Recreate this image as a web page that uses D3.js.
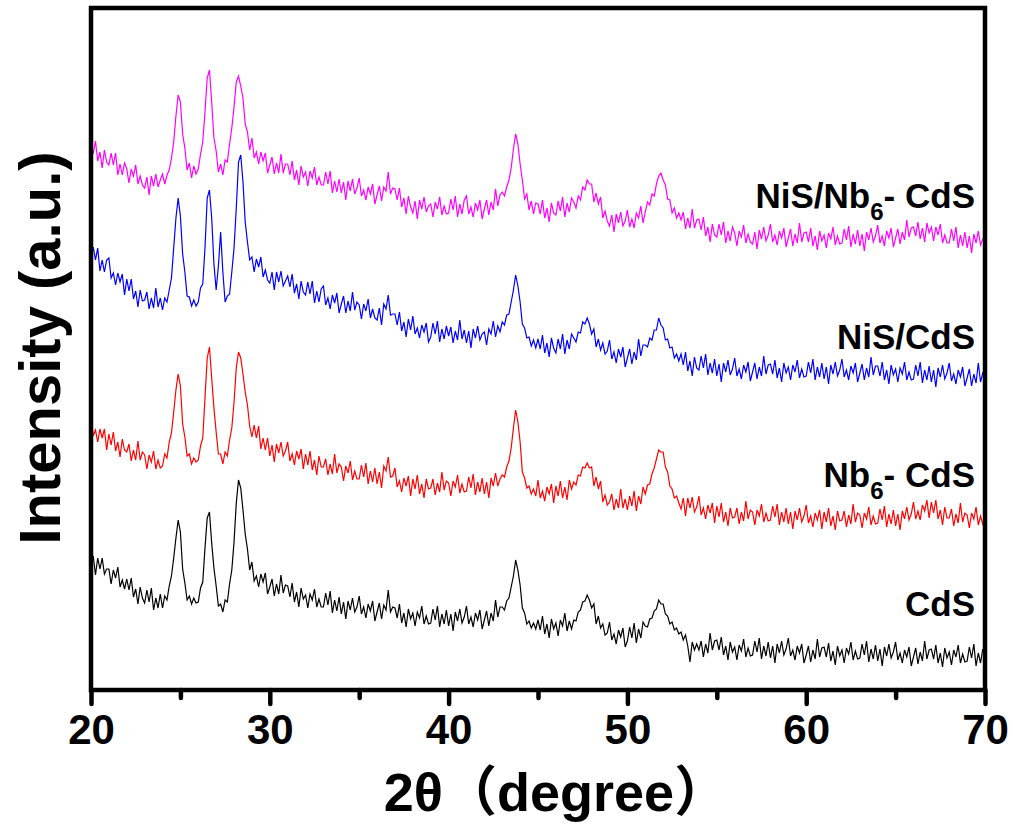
<!DOCTYPE html>
<html><head><meta charset="utf-8">
<script src="https://cdn.jsdelivr.net/npm/d3@7"></script>
<style>
html,body{margin:0;padding:0;background:#fff;}
text{font-family:"Liberation Sans",Arial,sans-serif;font-weight:bold;fill:#000;}
</style></head>
<body><svg id="chart" width="1014" height="828"></svg>
<script>
// 2θ sampling grid (degrees)
const thetaStart = 20, thetaStep = 0.125, thetaEnd = 70;
const xTicksMajor = [20, 30, 40, 50, 60, 70];
const xTicksMinor = [25, 35, 45, 55, 65];
const seriesColors = ["#ff00ff", "#0000ff", "#ff0000", "#000000"];

// intensities (a.u., stacked offsets included), 8 points per degree
const nisNb6CdS = [
/*20*/548,536,549,529,538,522,540,528, /*21*/525,537,525,537,515,526,515,527,
/*22*/521,507,521,514,525,506,514,505, /*23*/502,513,495,514,504,516,503,510,
/*24*/516,506,515,520,532,548,574,595, /*25*/588,556,542,520,527,512,524,516,
/*26*/521,536,548,578,612,620,588,552, /*27*/539,518,526,515,530,528,546,562,
/*28*/583,608,614,604,592,566,558,540, /*29*/552,532,538,526,538,529,537,517,
/*30*/525,533,516,527,517,536,517,526, /*31*/526,515,529,510,520,505,524,513,
/*32*/518,504,519,512,523,505,513,505, /*33*/505,518,506,519,497,509,498,511,
/*34*/497,508,490,509,499,511,496,502, /*35*/512,494,500,490,503,496,506,486,
/*36*/495,504,489,503,499,518,496,502, /*37*/501,490,502,483,492,476,494,483,
/*38*/477,489,471,490,481,493,478,484, /*39*/486,473,488,481,493,475,484,476,
/*40*/477,491,480,494,473,486,476,490, /*41*/494,476,483,473,487,480,490,471,
/*42*/481,490,475,488,480,501,484,495, /*43*/498,494,503,510,522,541,556,546,
/*44*/526,510,491,496,480,489,476,487, /*45*/486,476,490,472,482,468,487,477,
/*46*/475,489,479,493,473,487,478,492, /*47*/488,482,494,490,503,500,510,506,
/*48*/506,488,497,486,493,472,479,469, /*49*/464,475,458,476,467,478,464,469,
/*50*/480,463,471,462,477,472,484,467, /*51*/478,488,485,496,494,506,514,517,
/*52*/510,505,491,490,477,482,472,477, /*53*/470,478,461,472,462,481,462,470,
/*54*/471,460,473,454,463,448,466,455, /*55*/453,466,455,468,447,459,449,463,
/*56*/457,444,459,453,465,447,456,448, /*57*/446,458,441,460,451,463,449,455,
/*58*/466,448,455,445,459,452,462,443, /*59*/452,461,444,456,447,467,448,457,
/*60*/458,448,462,444,454,440,459,449, /*61*/455,442,457,451,463,445,454,446,
/*62*/447,461,450,464,443,456,446,460, /*63*/444,456,439,458,450,462,448,454,
/*64*/465,447,454,444,459,452,462,443, /*65*/452,461,446,458,450,470,453,462,
/*66*/463,454,468,451,462,448,467,457, /*67*/463,449,463,455,466,447,455,447,
/*68*/447,461,449,463,442,455,444,458, /*69*/442,454,437,456,447,459,445,451,
/*70*/450];
const nisCdS = [
/*20*/431,443,430,442,419,430,418,430, /*21*/432,412,417,405,417,408,416,395,
/*22*/411,399,411,391,399,383,400,389, /*23*/390,398,381,392,382,402,383,392,
/*24*/380,392,388,400,412,442,472,492, /*25*/474,436,418,394,393,384,390,384,
/*26*/388,402,406,442,492,500,472,426, /*27*/400,424,458,418,388,394,396,418,
/*28*/442,482,528,535,508,468,448,430, /*29*/433,418,431,423,433,413,420,410,
/*30*/407,418,400,418,408,419,404,409, /*31*/414,403,416,397,406,391,409,398,
/*32*/395,408,396,409,387,399,388,401, /*33*/404,385,392,381,395,387,397,377,
/*34*/386,394,377,389,379,398,380,388, /*35*/385,371,386,379,391,372,381,372,
/*36*/370,382,365,386,381,395,375,376, /*37*/376,365,378,359,368,353,371,360,
/*38*/374,356,362,352,365,358,367,348, /*39*/353,367,356,369,348,361,351,364,
/*40*/354,363,347,359,350,370,351,360, /*41*/347,359,342,361,352,364,350,356,
/*42*/358,345,361,356,369,353,364,358, /*43*/368,365,375,376,388,400,415,404,
/*44*/388,366,362,352,353,344,350,342, /*45*/351,341,355,337,347,333,352,342,
/*46*/337,351,341,356,336,350,341,356, /*47*/352,348,358,357,368,366,372,366,
/*48*/356,361,343,351,340,347,336,339, /*49*/350,331,338,327,341,333,343,323,
/*50*/332,341,326,338,330,351,334,345, /*51*/345,343,352,350,360,360,372,365,
/*52*/362,350,351,342,343,332,336,329, /*53*/336,325,338,319,329,314,333,322,
/*54*/320,334,322,336,315,327,317,331, /*55*/314,326,308,327,318,330,315,321,
/*56*/332,314,321,311,325,318,328,309, /*57*/318,327,311,323,314,334,316,325,
/*58*/326,316,330,312,322,308,327,317, /*59*/323,310,325,318,330,312,321,313,
/*60*/314,328,317,331,310,323,313,327, /*61*/311,323,306,325,316,328,314,320,
/*62*/331,313,320,310,324,317,327,308, /*63*/317,326,310,322,313,333,315,324,
/*64*/324,314,328,310,320,306,325,315, /*65*/321,308,322,316,328,310,318,310,
/*66*/311,325,314,328,307,320,310,324, /*67*/308,320,303,322,313,325,311,317,
/*68*/327,309,316,306,320,313,323,304, /*69*/312,321,304,316,307,327,308,317,
/*70*/312];
const nb6CdS = [
/*20*/274,254,260,248,261,252,261,240, /*21*/256,245,258,239,248,233,251,240,
/*22*/238,246,229,240,230,249,230,238, /*23*/235,221,235,228,239,221,230,222,
/*24*/224,236,232,248,257,278,300,316, /*25*/304,266,253,234,236,226,232,228,
/*26*/230,244,252,292,332,343,312,282, /*27*/258,236,236,226,238,234,250,262,
/*28*/288,322,338,332,316,298,285,264, /*29*/253,265,252,264,241,252,240,252,
/*30*/234,245,228,246,237,248,234,239, /*31*/248,229,236,225,239,231,241,221,
/*32*/236,225,239,220,230,215,234,223, /*33*/223,231,215,226,216,236,217,226,
/*34*/223,209,224,217,229,210,219,211, /*35*/211,225,213,227,206,219,208,222,
/*36*/206,218,202,224,219,233,213,214, /*37*/222,203,209,198,212,204,214,194,
/*38*/211,201,215,196,206,192,211,201, /*39*/202,211,195,207,198,218,200,209,
/*40*/207,194,209,203,215,197,206,198, /*41*/199,213,202,216,195,208,198,212,
/*42*/196,208,192,212,204,217,204,211, /*43*/215,213,223,229,242,262,280,268,
/*44*/248,218,212,202,204,196,201,194, /*45*/210,192,199,189,203,196,206,187,
/*46*/204,194,209,192,203,190,210,201, /*47*/208,205,215,214,223,222,227,222,
/*48*/223,204,213,201,209,188,195,185, /*49*/188,196,180,191,182,201,182,191,
/*50*/180,194,184,199,179,194,186,203, /*51*/196,205,206,216,222,231,240,238,
/*52*/238,223,218,204,201,192,194,187, /*53*/181,192,174,192,182,193,178,183,
/*54*/194,175,182,171,185,177,187,167, /*55*/184,173,187,168,178,164,182,172,
/*56*/173,182,166,178,169,189,171,180, /*57*/178,165,180,174,186,168,177,169,
/*58*/170,184,173,186,165,178,168,182, /*59*/166,178,161,179,170,182,168,174,
/*60*/185,167,174,163,177,170,180,161, /*61*/178,168,182,164,174,160,179,169,
/*62*/170,179,163,175,166,186,168,177, /*63*/175,162,177,171,183,165,174,166,
/*64*/167,181,170,184,163,176,166,180, /*65*/164,176,160,179,171,183,170,176,
/*66*/188,171,179,170,185,179,190,172, /*67*/188,177,190,171,180,165,183,172,
/*68*/172,181,164,176,167,187,168,177, /*69*/175,162,177,171,183,165,174,166,
/*70*/172];
const cdS = [
/*20*/124,134,115,132,121,132,116,121, /*21*/121,106,120,112,123,103,110,101,
/*22*/111,100,112,93,101,86,103,92, /*23*/87,100,88,102,80,92,82,96,
/*24*/82,94,90,104,114,132,152,170, /*25*/158,121,107,90,94,86,92,87,
/*26*/88,102,108,142,172,178,147,122, /*27*/104,84,86,78,90,88,106,120,
/*28*/148,187,210,202,180,156,141,120, /*29*/128,109,114,103,116,108,117,96,
/*30*/103,111,94,106,96,115,97,105, /*31*/104,93,107,88,98,83,102,91,
/*32*/95,82,96,90,101,83,91,83, /*33*/83,97,85,99,77,90,79,93,
/*34*/76,88,71,89,80,92,78,83, /*35*/94,76,83,72,86,79,89,69,
/*36*/78,87,71,85,80,100,78,83, /*37*/82,72,86,67,77,63,81,71,
/*38*/77,64,78,72,84,66,74,66, /*39*/67,81,70,84,63,76,66,80,
/*40*/64,76,59,78,69,81,67,73, /*41*/84,66,73,63,77,70,80,61,
/*42*/70,79,64,77,69,90,73,83, /*43*/83,80,89,92,103,114,130,120,
/*44*/105,82,77,66,69,62,67,61, /*45*/70,60,74,56,66,52,71,61,
/*46*/67,54,70,64,77,59,69,61, /*47*/70,69,78,80,88,89,95,90,
/*48*/82,86,66,74,62,66,55,57, /*49*/68,50,56,46,60,53,62,43,
/*50*/49,63,52,67,47,61,52,68, /*51*/64,63,71,72,79,81,90,86,
/*52*/86,76,74,66,68,60,62,56, /*53*/58,50,55,44,28,48,40,46,
/*54*/40,49,33,46,37,57,40,49, /*55*/50,40,53,35,44,30,48,38,
/*56*/43,30,45,39,51,33,42,34, /*57*/35,49,38,52,31,44,34,48,
/*58*/32,44,27,46,37,49,35,41, /*59*/52,34,40,30,44,37,46,27,
/*60*/35,44,28,40,31,51,33,42, /*61*/43,33,47,29,39,25,44,34,
/*62*/40,27,42,36,48,30,39,31, /*63*/32,46,35,49,28,41,31,45,
/*64*/29,41,24,43,34,46,32,38, /*65*/48,30,37,27,40,33,43,24,
/*66*/33,42,26,38,29,49,31,40, /*67*/41,31,45,27,37,23,42,32,
/*68*/38,25,40,33,45,27,36,28, /*69*/29,43,32,46,24,37,27,41,
/*70*/33];

const seriesValues = [nisNb6CdS, nisCdS, nb6CdS, cdS];
const twoTheta = nisNb6CdS.map((_, i) => thetaStart + i * thetaStep);

const svg = d3.select("#chart");
const L = 91, R = 985, T = 8, B = 690;
const x = d3.scaleLinear().domain([thetaStart, thetaEnd]).range([L, R]);
const y = d3.scaleLinear().domain([0, 682]).range([B, T]);

const line = d3.line().x((d, i) => x(twoTheta[i])).y(d => y(d));

svg.append("defs").append("clipPath").attr("id", "clip")
  .append("rect").attr("x", L).attr("y", T).attr("width", R - L).attr("height", B - T);

const g = svg.append("g").attr("clip-path", "url(#clip)");
seriesValues.forEach((vals, k) => {
  g.append("path").datum(vals)
    .attr("d", line)
    .attr("fill", "none")
    .attr("stroke", seriesColors[k])
    .attr("stroke-width", 1.2);
});

// axes ticks
const axMajor = d3.axisBottom(x).tickValues(xTicksMajor).tickSize(14).tickPadding(10).tickFormat(d3.format("d"));
const axMinor = d3.axisBottom(x).tickValues(xTicksMinor).tickSize(8).tickFormat("");
const gMaj = svg.append("g").attr("transform", `translate(0,${B})`).call(axMajor);
const gMin = svg.append("g").attr("transform", `translate(0,${B})`).call(axMinor);
[gMaj, gMin].forEach(ga => {
  ga.select(".domain").remove();
  ga.selectAll(".tick line").attr("stroke", "#000").attr("stroke-width", 4.5).attr("stroke-linecap", "round");
});
gMaj.selectAll(".tick text")
  .attr("font-size", 42).attr("font-family", "'Liberation Sans',Arial,sans-serif")
  .attr("font-weight", "bold").attr("fill", "#000").attr("dy", "0.71em");

// frame
svg.append("rect").attr("x", L).attr("y", T).attr("width", R - L).attr("height", B - T)
  .attr("fill", "none").attr("stroke", "#000").attr("stroke-width", 4.5);

// axis titles
const xt = svg.append("text").attr("x", 556).attr("y", 811).attr("text-anchor", "middle").attr("font-size", 54);
xt.append("tspan").text("2θ");
xt.append("tspan").attr("font-family", "'Noto Sans CJK SC',sans-serif").attr("font-weight", "bold").text("（");
xt.append("tspan").text("degree");
xt.append("tspan").attr("font-family", "'Noto Sans CJK SC',sans-serif").attr("font-weight", "bold").text("）");

svg.append("text").attr("transform", "translate(60,348) rotate(-90)")
  .attr("text-anchor", "middle").attr("font-size", 58).text("Intensity (a.u.)");

// series labels
const labelBase = [208, 349, 487, 616];
function addLabel(yb, parts) {
  const t = svg.append("text").attr("x", 975).attr("y", yb).attr("text-anchor", "end").attr("font-size", 35);
  parts.forEach(p => {
    const s = t.append("tspan").text(p.t);
    if (p.sub) s.attr("font-size", 24).attr("dy", 12);
    if (p.back) s.attr("dy", -12);
  });
}
addLabel(labelBase[0], [{t: "NiS/Nb"}, {t: "6", sub: true}, {t: "- CdS", back: true}]);
addLabel(labelBase[1], [{t: "NiS/CdS"}]);
addLabel(labelBase[2], [{t: "Nb"}, {t: "6", sub: true}, {t: "- CdS", back: true}]);
addLabel(labelBase[3], [{t: "CdS"}]);
</script></body></html>
